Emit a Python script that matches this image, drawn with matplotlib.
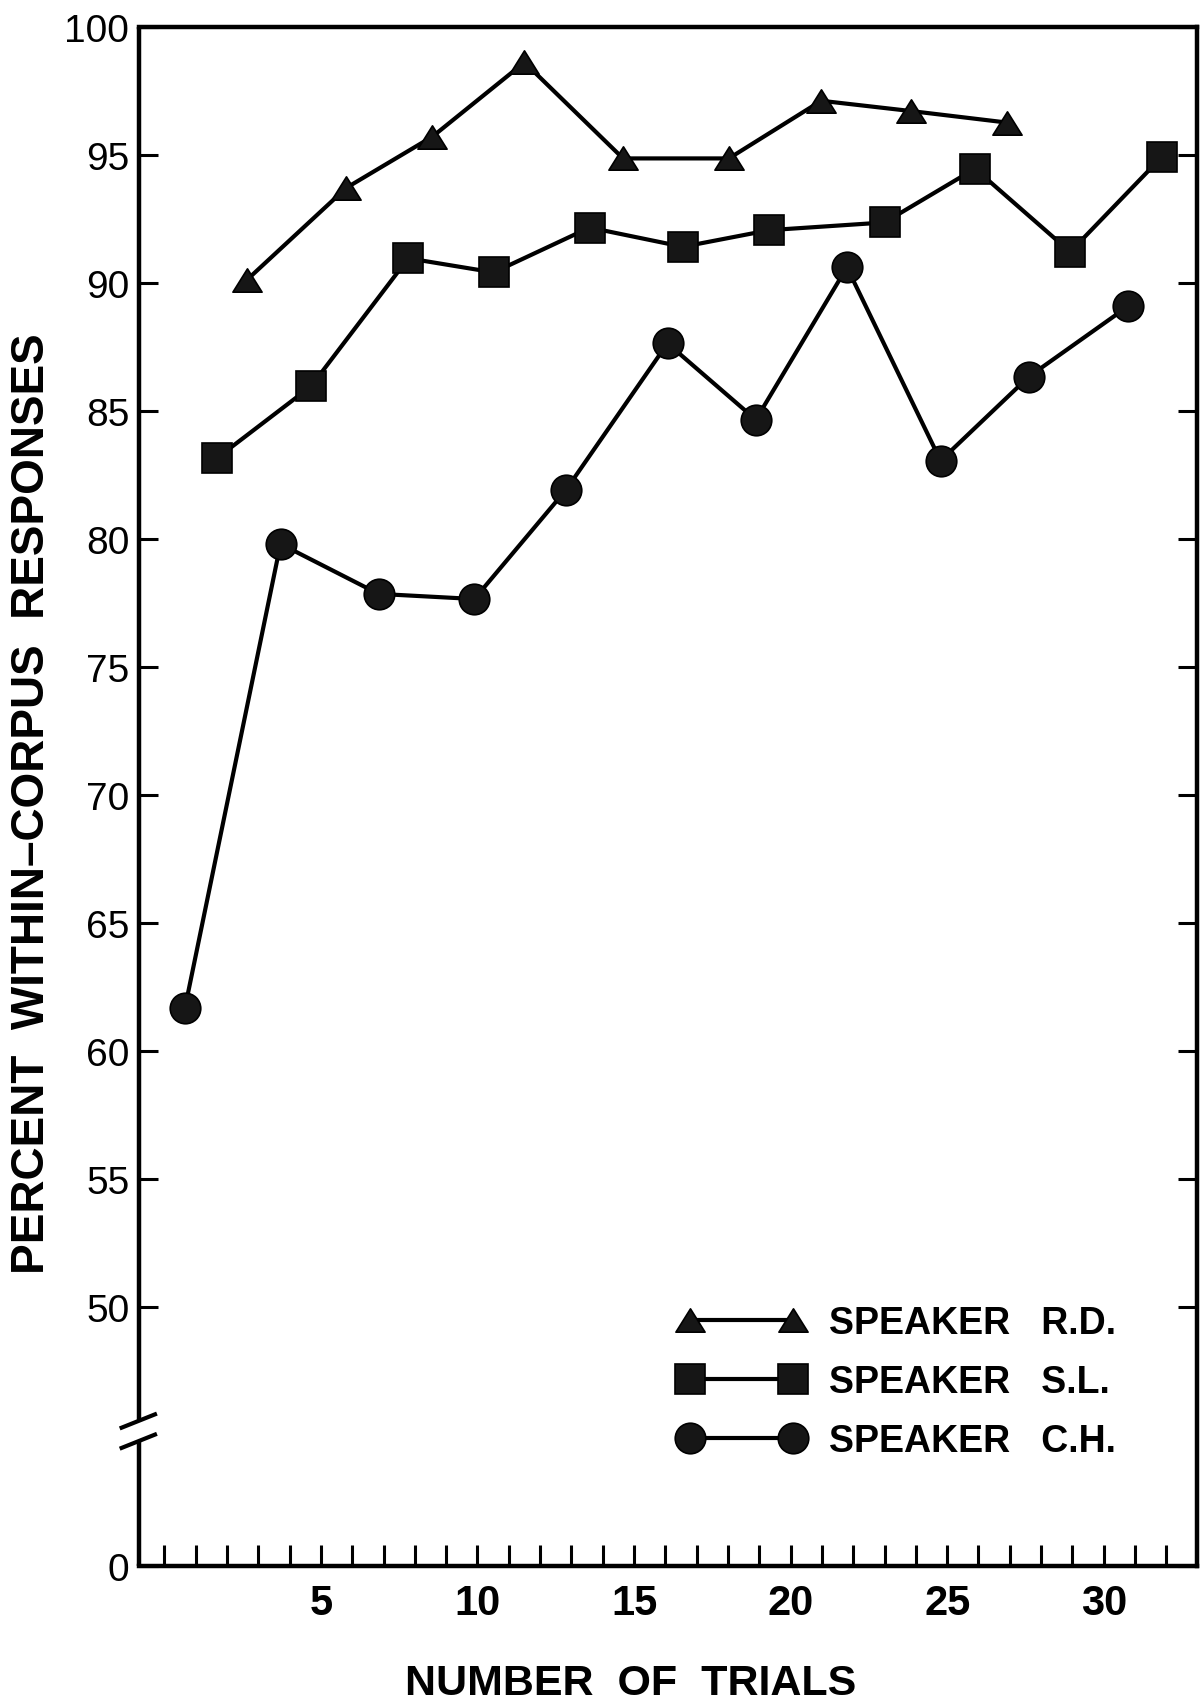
import matplotlib
matplotlib.use("Agg")
import matplotlib.pyplot as plt
from matplotlib.path import Path
import numpy as np

# ---------------- data ----------------
rd_x = [2.63, 5.81, 8.56, 11.5, 14.65, 18.03, 20.98, 23.84, 26.91]
rd_y = [90.1, 93.7, 95.7, 98.6, 94.85, 94.85, 97.1, 96.7, 96.25]

sl_x = [1.68, 4.68, 7.79, 10.52, 13.58, 16.56, 19.32, 23.0, 25.89, 28.93, 31.85]
sl_y = [83.15, 85.95, 90.95, 90.4, 92.15, 91.4, 92.05, 92.35, 94.45, 91.2, 94.9]

ch_x = [0.66, 3.71, 6.84, 9.9, 12.82, 16.07, 18.89, 21.8, 24.79, 27.61, 30.77]
ch_y = [61.7, 79.8, 77.85, 77.65, 81.9, 87.63, 84.65, 90.6, 83.05, 86.33, 89.07]

labels = ["SPEAKER   R.D.", "SPEAKER   S.L.", "SPEAKER   C.H."]
x_label_ticks = [5, 10, 15, 20, 25, 30]
y_upper_ticks = [50, 55, 60, 65, 70, 75, 80, 85, 90, 95, 100]
y_bottom_label = "0"

# ---------------- layout constants ----------------
Y_BOTTOM = 39.9          # where the "0" sits after the axis break
BRK_LO, BRK_HI = 44.77, 45.56
XMIN, XMAX = -0.81, 32.98

FONT = "Liberation Sans"
plt.rcParams["font.family"] = [FONT, "DejaVu Sans"]

fig = plt.figure(figsize=(12.03, 17.06), dpi=100)
ax = fig.add_axes([139 / 1203, 1 - 1567 / 1706, (1197 - 139) / 1203, (1567 - 27.5) / 1706])

tri = Path([(0, 0.8), (-1, -0.8), (1, -0.8), (0, 0.8)],
           [Path.MOVETO, Path.LINETO, Path.LINETO, Path.CLOSEPOLY])

fill = "#161616"
common = dict(color="black", lw=3.0, markerfacecolor=fill, markeredgecolor="black",
              markeredgewidth=1.2, clip_on=False)
ax.plot(rd_x, rd_y, marker=tri, ms=21, label=labels[0], **common)
ax.plot(sl_x, sl_y, marker="s", ms=21, label=labels[1], **common)
ax.plot(ch_x, ch_y, marker="o", ms=22, label=labels[2], **common)

ax.set_xlim(XMIN, XMAX)
ax.set_ylim(Y_BOTTOM, 100)

# x ticks: every trial, labels only every 5
ax.set_xticks(np.arange(0, 33))
ax.set_xticklabels([str(v) if v in x_label_ticks else "" for v in range(0, 33)])
ax.tick_params(axis="x", direction="in", length=15, width=2.2, pad=12,
               labelsize=30, top=False)
for t in ax.get_xticklabels():
    t.set_fontweight("bold")

# y ticks
ax.set_yticks([Y_BOTTOM] + y_upper_ticks)
ax.set_yticklabels([y_bottom_label] + [str(v) for v in y_upper_ticks])
ax.tick_params(axis="y", direction="in", length=14, width=2.2, pad=7,
               labelsize=28, right=True, labelright=False)

# spines
for s in ["top", "right", "bottom"]:
    ax.spines[s].set_linewidth(3.2)
ax.spines["left"].set_visible(False)

ytr = ax.get_yaxis_transform()
ax.plot([0, 0], [Y_BOTTOM, BRK_LO], transform=ytr, color="black", lw=3.2,
        clip_on=False, solid_capstyle="butt")
ax.plot([0, 0], [BRK_HI, 100], transform=ytr, color="black", lw=3.2,
        clip_on=False, solid_capstyle="butt")
for yb in (BRK_LO, BRK_HI):
    ax.plot([-0.0164, 0.0151], [yb - 0.26, yb + 0.26], transform=ytr,
            color="black", lw=3.0, clip_on=False)

# axis titles
ax.text(0.465, -0.076, "NUMBER  OF  TRIALS", transform=ax.transAxes,
        ha="center", va="center", fontsize=31, fontweight="bold")
fig.text(32 / 1203, 1 - 804 / 1706, "PERCENT  WITHIN\u2013CORPUS  RESPONSES",
         rotation=90, ha="center", va="center", fontsize=33, fontweight="bold")

# legend
leg = ax.legend(loc="center left", bbox_to_anchor=(0.510, 0.1195), frameon=False,
                numpoints=2, handlelength=3.34, handletextpad=0.66,
                labelspacing=0.62, borderpad=0, borderaxespad=0,
                prop={"family": FONT, "weight": "bold", "size": 27})

fig.savefig("out.png", dpi=100)
